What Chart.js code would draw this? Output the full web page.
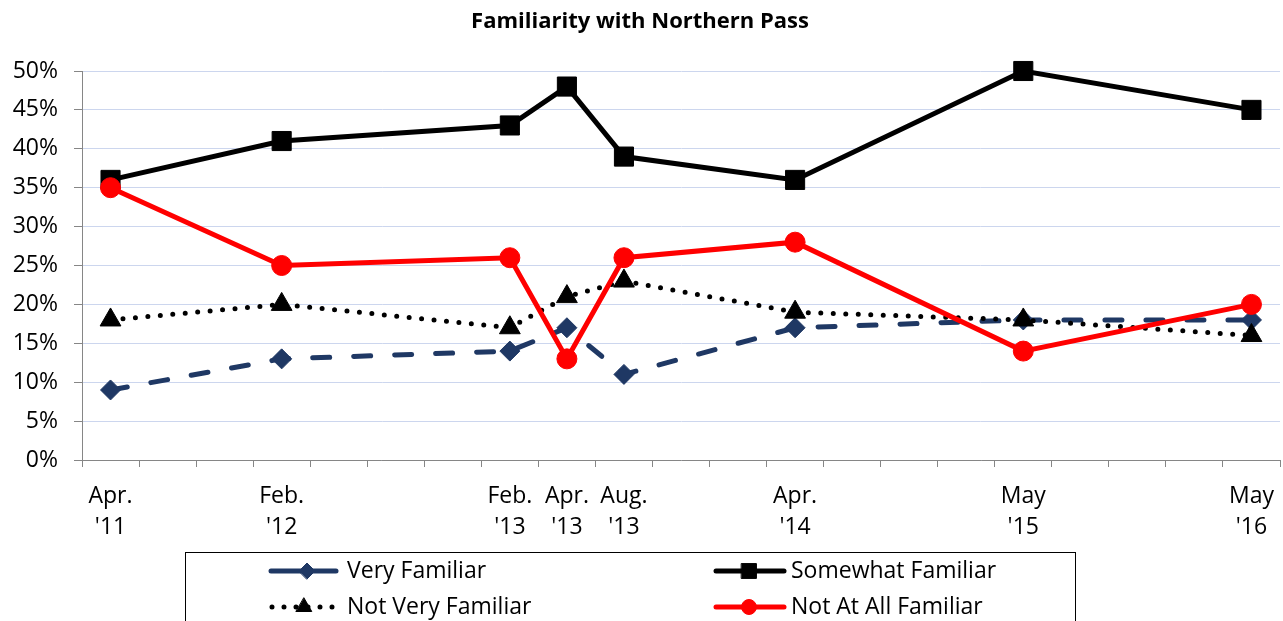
<!DOCTYPE html>
<html><head><meta charset="utf-8">
<script src="https://cdn.jsdelivr.net/npm/chart.js@4.4.1/dist/chart.umd.min.js"></script>
<style>html,body{margin:0;padding:0;background:#fff}#wrap{width:1283px;height:621px}canvas{display:block}</style>
</head><body><div id="wrap"><canvas id="c" width="1283" height="621"></canvas></div>
<script>
// ---- data ----
const categories = [["Apr.","'11"],["Feb.","'12"],["Feb.","'13"],["Apr.","'13"],["Aug.","'13"],["Apr.","'14"],["May","'15"],["May","'16"]];
const quarterSlots = [0, 3, 7, 8, 9, 12, 16, 20];   // position of each survey on the quarterly timeline
const veryFamiliar = [9, 13, 14, 17, 11, 17, 18, 18];
const somewhatFamiliar = [36, 41, 43, 48, 39, 36, 50, 45];
const notVeryFamiliar = [18, 20, 17, 21, 23, 19, 18, 16];
const notAtAllFamiliar = [35, 25, 26, 13, 26, 28, 14, 20];
const seriesNames = ["Very Familiar", "Somewhat Familiar", "Not Very Familiar", "Not At All Familiar"];
const yTickValues = [0, 5, 10, 15, 20, 25, 30, 35, 40, 45, 50];
const quarterCount = 21;
const chartTitle = "Familiarity with Northern Pass";

Chart.defaults.font.family = "'Open Sans', sans-serif";
Chart.defaults.color = '#000';

const pts = arr => arr.map((v, i) => ({x: quarterSlots[i], y: v}));

const NAVY = '#1f3864', RED = '#ff0000', BLACK = '#000000', AXIS = '#868686', GRID = '#ccd6ee';

const datasets = [
  {label: seriesNames[0], data: pts(veryFamiliar), borderColor: NAVY, backgroundColor: NAVY,
   borderWidth: 5, borderDash: [17, 24], borderCapStyle: 'round', pointStyle: 'rectRot', pointRadius: 10,
   pointBorderWidth: 1, pointBorderColor: NAVY, order: 4, legendMarkR: 8},
  {label: seriesNames[1], data: pts(somewhatFamiliar), borderColor: BLACK, backgroundColor: BLACK,
   borderWidth: 5, pointStyle: 'rect', pointRadius: 13.5, pointBorderWidth: 1, pointBorderColor: BLACK, order: 2, legendMarkR: 10.5},
  {label: seriesNames[2], data: pts(notVeryFamiliar), borderColor: BLACK, backgroundColor: BLACK,
   borderWidth: 5, borderDash: [0, 12.5], borderCapStyle: 'round', pointStyle: 'triangle', pointRadius: 12,
   pointBorderWidth: 1, pointBorderColor: BLACK, order: 3, legendMarkR: 9},
  {label: seriesNames[3], data: pts(notAtAllFamiliar), borderColor: RED, backgroundColor: RED,
   borderWidth: 5, pointStyle: 'circle', pointRadius: 10, pointBorderWidth: 1, pointBorderColor: RED, order: 1, legendMarkR: 7.5}
];
datasets.forEach(d => { d.tension = 0; d.fill = false; d.xAxisID = 'x'; d.yAxisID = 'y'; d.clip = 20; });

const legendPlugin = {
  id: 'boxLegend',
  afterDraw(chart) {
    const ctx = chart.ctx;
    ctx.save();
    ctx.strokeStyle = '#000'; ctx.lineWidth = 1;
    ctx.strokeRect(185.5, 552.5, 890, 120);
    const slots = [
      {x1: 271, x2: 336, mx: 307, tx: 347, y: 571},
      {x1: 716, x2: 784, mx: 749, tx: 791, y: 571},
      {x1: 272, x2: 334, mx: 304, tx: 347, y: 607},
      {x1: 716, x2: 784, mx: 749, tx: 791, y: 607}
    ];
    datasets.forEach((d, i) => {
      const s = slots[i];
      ctx.save();
      ctx.strokeStyle = d.borderColor; ctx.lineWidth = d.borderWidth;
      ctx.lineCap = 'round';
      if (i === 2) { ctx.setLineDash([0, 12]); }
      ctx.beginPath(); ctx.moveTo(s.x1, s.y); ctx.lineTo(s.x2, s.y); ctx.stroke();
      ctx.setLineDash([]);
      ctx.fillStyle = d.backgroundColor; ctx.strokeStyle = d.backgroundColor; ctx.lineWidth = 1;
      Chart.helpers.drawPoint(ctx, {pointStyle: d.pointStyle, radius: d.legendMarkR, rotation: 0, borderWidth: 1}, s.mx, s.y);
      ctx.restore();
      ctx.fillStyle = '#000';
      ctx.font = "23px 'Open Sans', sans-serif";
      ctx.textBaseline = 'middle'; ctx.textAlign = 'left';
      ctx.fillText(d.label, s.tx, s.y);
    });
    ctx.restore();
  }
};

new Chart(document.getElementById('c'), {
  type: 'line',
  data: {datasets},
  plugins: [legendPlugin],
  options: {
    responsive: false, animation: false, devicePixelRatio: 1,
    layout: {autoPadding: false, padding: {left: 0, right: 3, top: 0, bottom: 69}},
    plugins: {
      legend: {display: false}, tooltip: {enabled: false},
      title: {display: true, text: chartTitle, color: '#000',
        font: {size: 22, weight: 'bold', family: "'Open Sans', sans-serif", lineHeight: 1.2},
        padding: {top: 9, bottom: 35.6}}
    },
    scales: {
      y: {
        type: 'linear', position: 'left', min: 0, max: 50,
        afterBuildTicks: s => { s.ticks = yTickValues.map(v => ({value: v})); },
        afterFit: s => { s.width = 82; },
        ticks: {callback: v => v + '%', font: {size: 23}, color: '#000', padding: 16},
        grid: {color: GRID, lineWidth: 1, tickLength: 8, tickColor: AXIS, drawTicks: true},
        border: {color: AXIS, width: 1}
      },
      x: {
        type: 'linear', position: 'bottom', min: -0.5, max: quarterCount - 0.5, weight: 0,
        afterBuildTicks: s => { s.ticks = Array.from({length: quarterCount + 1}, (_, i) => ({value: i - 0.5})); },
        afterFit: s => { s.height = 7; s.paddingLeft = 0; s.paddingRight = 0; },
        ticks: {display: false},
        grid: {drawOnChartArea: false, tickLength: 7, color: AXIS, tickColor: AXIS},
        border: {color: AXIS, width: 1}
      },
      xl: {
        type: 'linear', position: 'bottom', min: -0.5, max: quarterCount - 0.5, weight: 1,
        afterBuildTicks: s => { s.ticks = quarterSlots.map(v => ({value: v})); },
        afterFit: s => { s.height = 85; s.paddingLeft = 0; s.paddingRight = 0; },
        ticks: {autoSkip: false, maxRotation: 0, minRotation: 0, font: {size: 23, lineHeight: '31px'}, color: '#000', padding: 14,
          callback: (v, i) => categories[i]},
        grid: {display: false, drawTicks: false},
        border: {display: false}
      }
    }
  }
});
</script></body></html>
